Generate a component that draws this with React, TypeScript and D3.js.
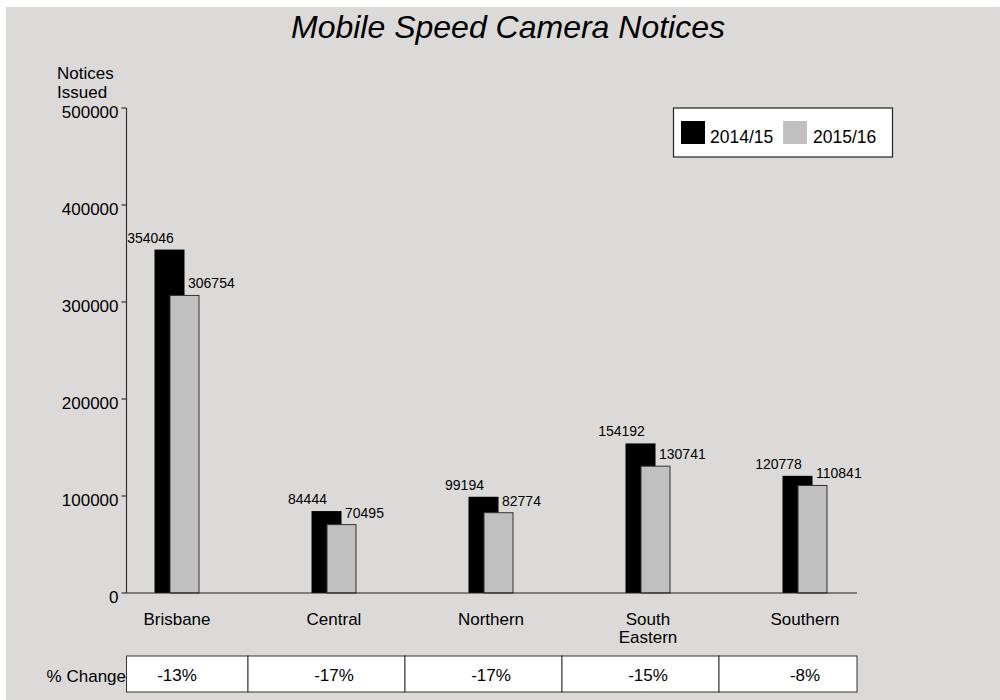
import React from "react";
import * as d3 from "d3";

const categories = ["Brisbane", "Central", "Northern", "South Eastern", "Southern"];
const categoryLines = [["Brisbane"], ["Central"], ["Northern"], ["South", "Eastern"], ["Southern"]];
const series2014 = [354046, 84444, 99194, 154192, 120778];
const series2015 = [306754, 70495, 82774, 130741, 110841];
const pctChange = ["-13%", "-17%", "-17%", "-15%", "-8%"];
const yTicks = [0, 100000, 200000, 300000, 400000, 500000];
const seriesNames = ["2014/15", "2015/16"];

const FONT = "'Liberation Sans', Arial, Helvetica, sans-serif";
const BG = "#dcdad8";

export default function App() {
  const axisX0 = 126.5;
  const axisX1 = 857;
  const y = d3.scaleLinear().domain([0, 500000]).range([593, 108]);
  const x = d3.scalePoint<string>().domain(categories).range([169.5, 797.5]);
  const step = x.step();
  const barW = 30;
  const grayOff = 0.5;
  const grayW = 29;

  const cellEdges = categories.map((c, i) => {
    const p = x(c)!;
    const left = i === 0 ? axisX0 : p - step / 2;
    const right = i === categories.length - 1 ? axisX1 : p + step / 2;
    return [left, right];
  });

  return (
    <svg
      width={1000}
      height={700}
      style={{ position: "absolute", left: 0, top: 0, display: "block" }}
      fontFamily={FONT}
    >
      <rect x={0} y={0} width={1000} height={700} fill="#ffffff" />
      <rect x={6} y={7} width={994} height={693} fill={BG} />

      <text x={508} y={38} textAnchor="middle" fontSize={32} fontStyle="italic" fill="#000">
        Mobile Speed Camera Notices
      </text>

      <text x={57} y={79} fontSize={17} fill="#000">Notices</text>
      <text x={57} y={98} fontSize={17} fill="#000">Issued</text>

      {/* y axis */}
      <line x1={axisX0} x2={axisX0} y1={y(500000)} y2={y(0)} stroke="#333" strokeWidth={1.2} />
      {yTicks.map((t) => (
        <g key={t}>
          <line x1={axisX0 - 5} x2={axisX0} y1={y(t)} y2={y(t)} stroke="#333" strokeWidth={1.2} />
          <text x={axisX0 - 8} y={y(t) + 9.5} textAnchor="end" fontSize={17} fill="#000">
            {t}
          </text>
        </g>
      ))}

      {/* bars */}
      {categories.map((c, i) => {
        const p = x(c)!;
        return (
          <g key={c}>
            <rect x={p - barW / 2} y={y(series2014[i])} width={barW} height={y(0) - y(series2014[i])} fill="#000" />
            <rect
              x={p + grayOff}
              y={y(series2015[i])}
              width={grayW}
              height={y(0) - y(series2015[i])}
              fill="#c0c0c0"
              stroke="#333"
              strokeWidth={1}
            />
            <text x={p - 19} y={y(series2014[i]) - 7} textAnchor="middle" fontSize={14} fill="#000">
              {series2014[i]}
            </text>
            <text x={p + grayOff + 18} y={y(series2015[i]) - 7} fontSize={14} fill="#000">
              {series2015[i]}
            </text>
          </g>
        );
      })}

      {/* x axis */}
      <line x1={axisX0} x2={axisX1} y1={y(0)} y2={y(0)} stroke="#222" strokeWidth={1.2} />

      {categories.map((c, i) => (
        <text key={c} textAnchor="middle" fontSize={17} fill="#000">
          {categoryLines[i].map((ln, j) => (
            <tspan key={j} x={x(c)! + 7.5} y={625 + j * 18}>
              {ln}
            </tspan>
          ))}
        </text>
      ))}

      {/* legend */}
      <rect x={673.5} y={108} width={219} height={49} fill="#fff" stroke="#222" strokeWidth={1.2} />
      <rect x={681} y={121} width={24} height={23} fill="#000" />
      <text x={710} y={143} fontSize={17.5} fill="#000">{seriesNames[0]}</text>
      <rect x={783} y={121} width={24} height={23} fill="#c0c0c0" />
      <text x={813} y={143} fontSize={17.5} fill="#000">{seriesNames[1]}</text>

      {/* % change table */}
      <text x={126} y={682} textAnchor="end" fontSize={17} fill="#000">% Change</text>
      {categories.map((c, i) => (
        <g key={c}>
          <rect
            x={cellEdges[i][0]}
            y={656}
            width={cellEdges[i][1] - cellEdges[i][0]}
            height={36}
            fill="#fff"
            stroke="#333"
            strokeWidth={1}
          />
          <text x={x(c)! + 7.5} y={681} textAnchor="middle" fontSize={17} fill="#000">
            {pctChange[i]}
          </text>
        </g>
      ))}
    </svg>
  );
}
